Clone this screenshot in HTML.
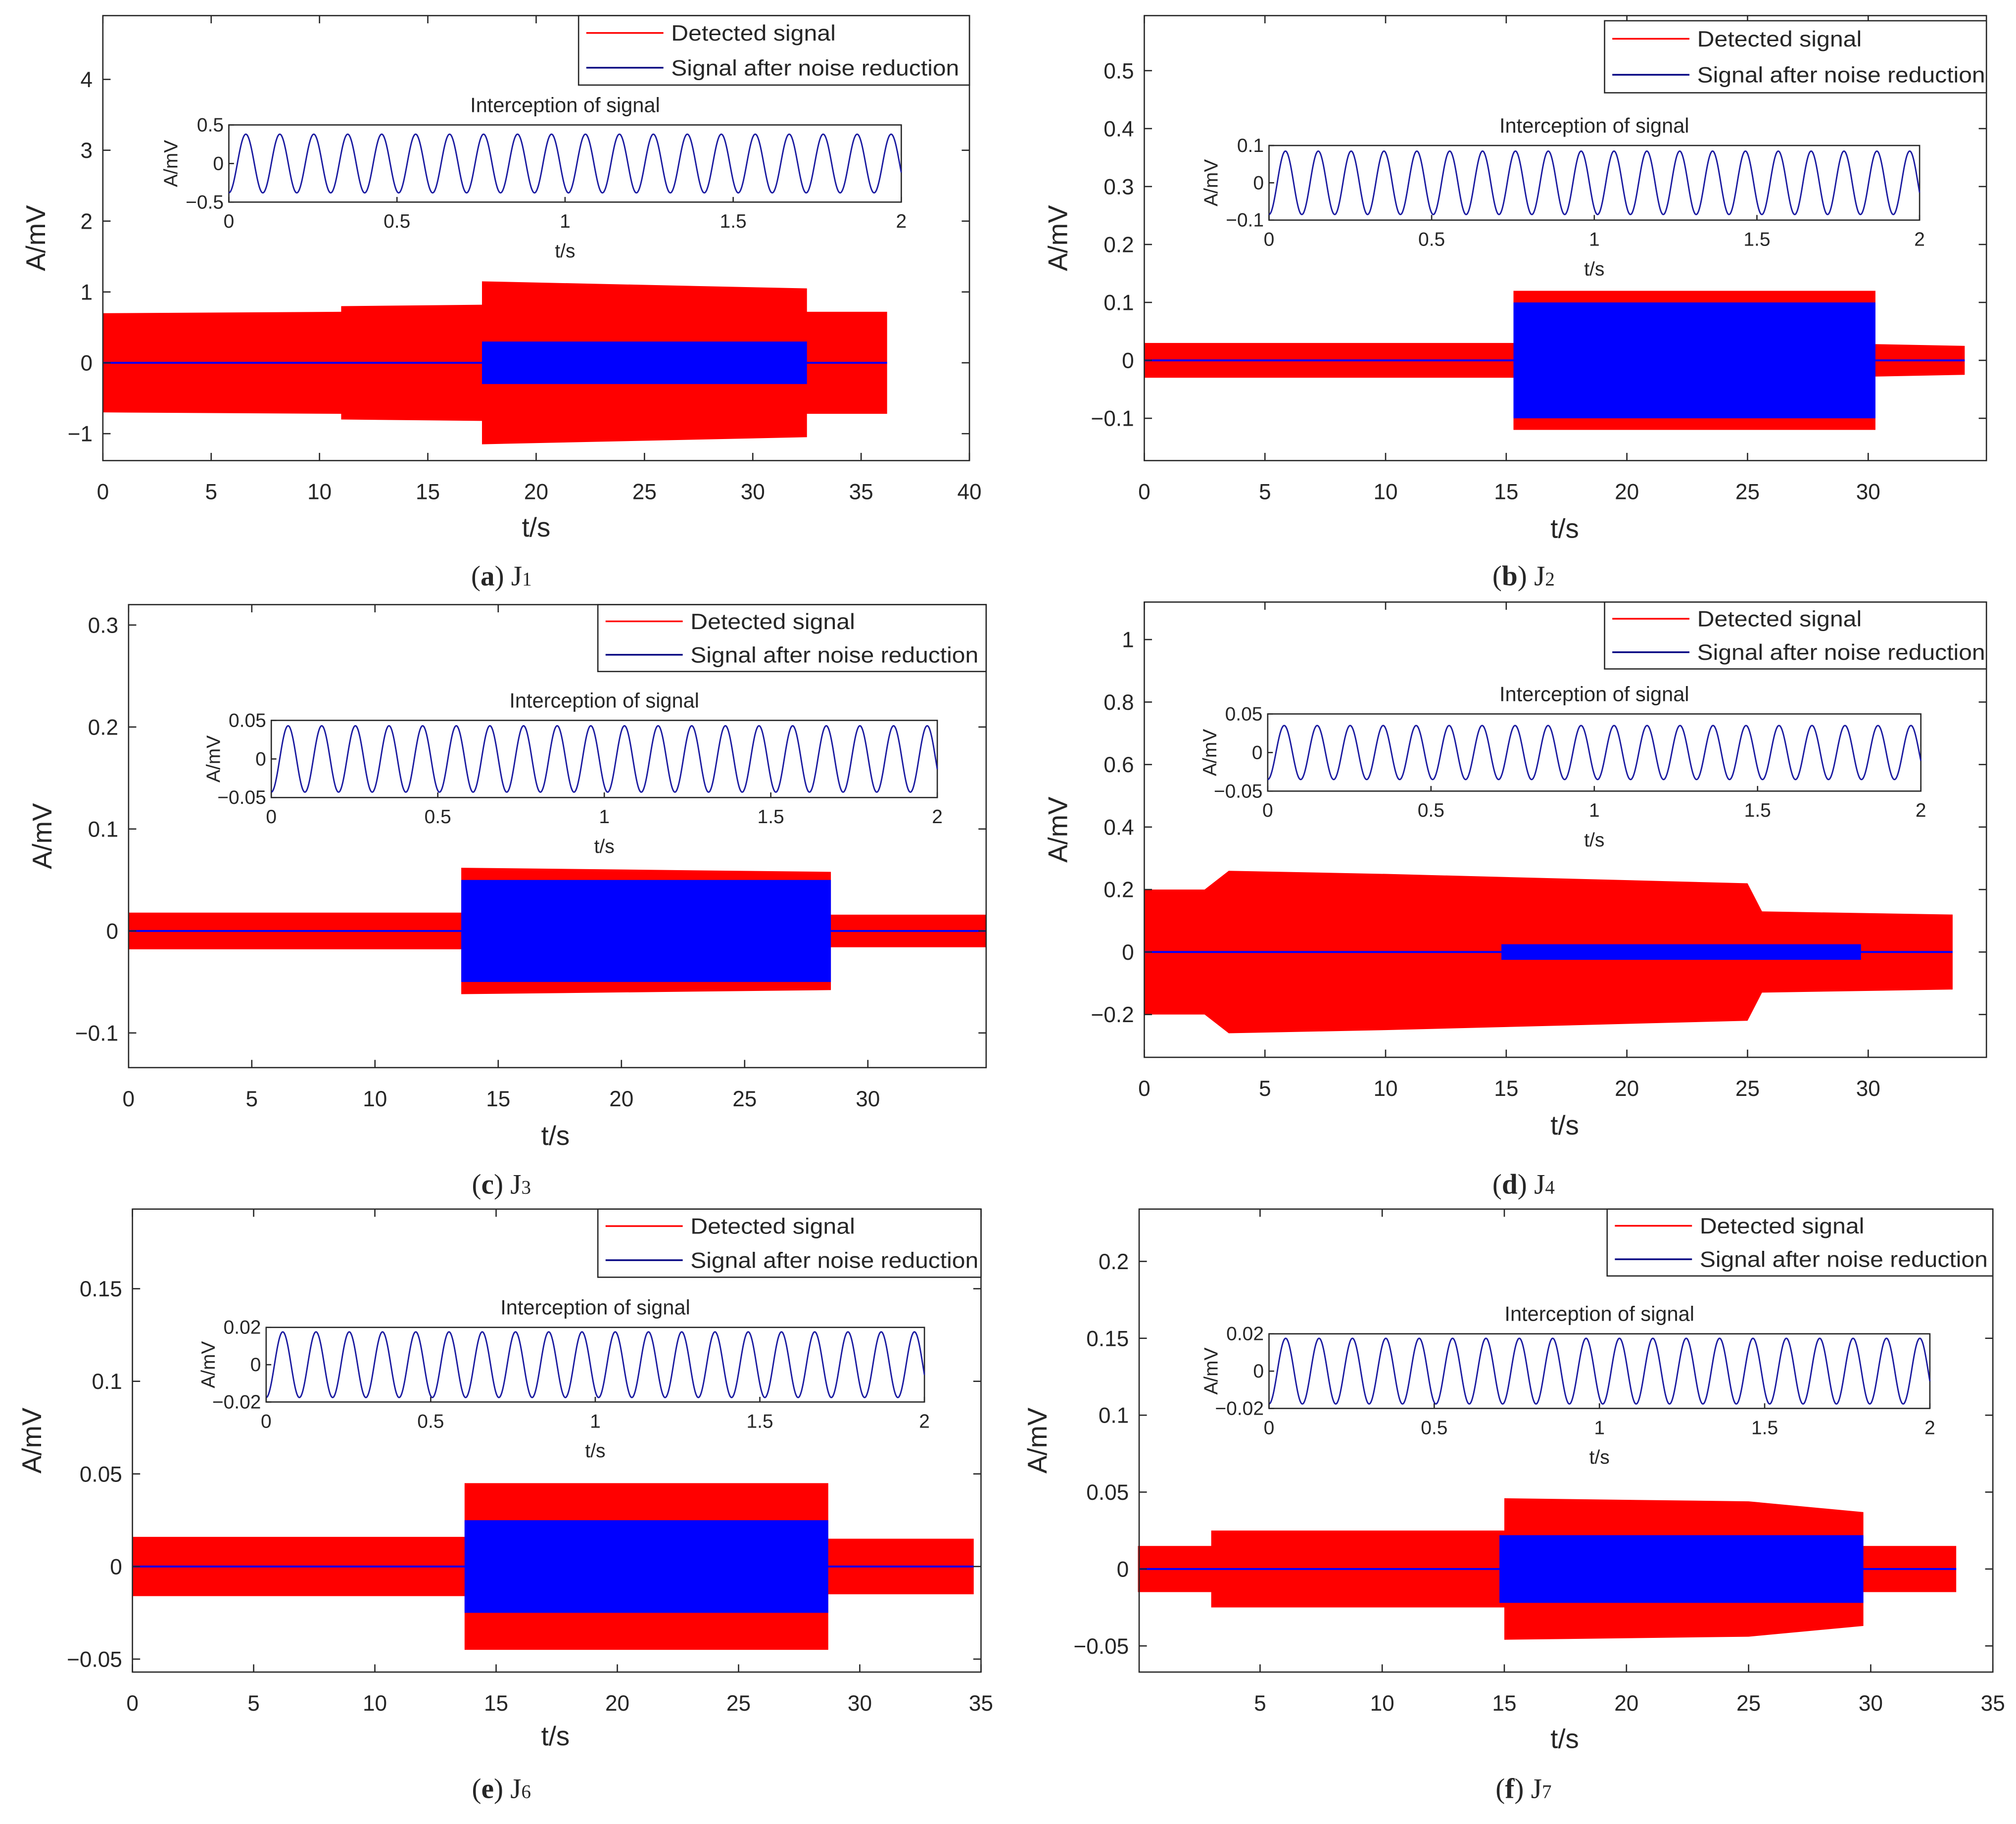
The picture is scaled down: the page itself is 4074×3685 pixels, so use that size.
<!DOCTYPE html>
<html><head><meta charset="utf-8"><style>
html,body{margin:0;padding:0;background:#fff;}
svg{display:block;}
text{font-family:"Liberation Sans",sans-serif;fill:#262626;}
</style></head><body>
<svg id="fig" width="4074" height="3685" viewBox="0 0 1568 1418" xmlns="http://www.w3.org/2000/svg"></svg>
<script>
// ---- data (per panel) ----
const panelIds = ['a','b','c','d','e','f'];
const captions = ['J1','J2','J3','J4','J6','J7'];
// red (detected) envelope: breakpoints (s) and amplitudes (mV)
const redT_a = [0,11,11,17.5,17.5,32.5,32.5,36.2];
const redA_a = [0.7,0.72,0.8,0.82,1.15,1.05,0.72,0.72];
const redT_b = [0,15.3,15.3,30.3,30.3,34];
const redA_b = [0.03,0.03,0.12,0.12,0.028,0.025];
const redT_c = [0,13.5,13.5,28.5,28.5,34.8];
const redA_c = [0.018,0.018,0.062,0.058,0.016,0.016];
const redT_d = [0,2.5,3.5,10,25,25.6,33.5];
const redA_d = [0.2,0.2,0.26,0.25,0.22,0.13,0.12];
const redT_e = [0,13.7,13.7,28.7,28.7,34.7];
const redA_e = [0.016,0.016,0.045,0.045,0.015,0.015];
const redT_f = [0,3,3,15,15,25,29.7,29.7,33.5];
const redA_f = [0.015,0.015,0.025,0.025,0.046,0.044,0.037,0.015,0.015];
// blue (denoised) envelope
const blueT_a = [17.5,32.5];   const blueA_a = [0.3,0.3];
const blueT_b = [15.3,30.3];   const blueA_b = [0.1,0.1];
const blueT_c = [13.5,28.5];   const blueA_c = [0.05,0.05];
const blueT_d = [14.8,29.7];   const blueA_d = [0.025,0.025];
const blueT_e = [13.7,28.7];   const blueA_e = [0.025,0.025];
const blueT_f = [14.8,29.7];   const blueA_f = [0.022,0.022];
const xTicks_a=[0,5,10,15,20,25,30,35,40]; const yTicks_a=[-1,0,1,2,3,4];
const xTicks_b=[0,5,10,15,20,25,30]; const yTicks_b=[-0.1,0,0.1,0.2,0.3,0.4,0.5];
const xTicks_c=[0,5,10,15,20,25,30]; const yTicks_c=[-0.1,0,0.1,0.2,0.3];
const xTicks_d=[0,5,10,15,20,25,30]; const yTicks_d=[-0.2,0,0.2,0.4,0.6,0.8,1];
const xTicks_e=[0,5,10,15,20,25,30,35]; const yTicks_e=[-0.05,0,0.05,0.1,0.15];
const xTicks_f=[5,10,15,20,25,30,35]; const yTicks_f=[-0.05,0,0.05,0.1,0.15,0.2];
const insetAmp = [0.38,0.085,0.043,0.035,0.022,0.022];
const insetLim = [0.5,0.1,0.05,0.05,0.025,0.025];
const insetTickLabels = [['0.5','0','-0.5'],['0.1','0','-0.1'],['0.05','0','-0.05'],['0.05','0','-0.05'],['0.02','0','-0.02'],['0.02','0','-0.02']];
const insetFreq = [9.9,9.9,9.9,9.9,9.9,9.9];

// ---- layout ----
const L = {
 a:{box:[80,12,754,358],x:[0,40],y:[-1.38,4.9],leg:[450,12,754,66],ins:[178,97,701,157],ylab:[35,185],xlab:[417,417],cap:[390,455],tend:36.2},
 b:{box:[890,12,1545,358],x:[0,34.9],y:[-0.173,0.595],leg:[1248,16,1545,72],ins:[987,113,1493,171],ylab:[830,185],xlab:[1217,418],cap:[1185,455],tend:34},
 c:{box:[100,470,767,830],x:[0,34.8],y:[-0.134,0.32],leg:[465,470,767,522],ins:[211,560,729,620],ylab:[40,650],xlab:[432,890],cap:[390,928],tend:34.8},
 d:{box:[890,468,1545,822],x:[0,34.9],y:[-0.337,1.12],leg:[1248,468,1545,520],ins:[986,555,1494,615],ylab:[830,645],xlab:[1217,882],cap:[1185,928],tend:33.5},
 e:{box:[103,940,763,1300],x:[0,35],y:[-0.057,0.193],leg:[465,940,763,993],ins:[207,1032,719,1090],ylab:[32,1120],xlab:[432,1357],cap:[390,1398],tend:34.7},
 f:{box:[886,940,1550,1300],x:[0.05,35],y:[-0.067,0.234],leg:[1250,940,1550,992],ins:[987,1037,1501,1095],ylab:[814,1120],xlab:[1217,1359],cap:[1185,1398],tend:33.5}
};
const NS='http://www.w3.org/2000/svg';
const svg=document.getElementById('fig');
function mk(tag,attrs,parent,txt){const e=document.createElementNS(NS,tag);for(const k in attrs)e.setAttribute(k,attrs[k]);if(txt!==undefined)e.textContent=txt;(parent||svg).appendChild(e);return e;}
function fmt(v){return String(Math.round(v*1000)/1000).replace('-','\u2212');}

panelIds.forEach((id,pi)=>{
 const c=L[id];
 const g=mk('g',{});
 
 
 const [x0,y0,x1,y1]=c.box;
 const sx=v=>x0+(v-c.x[0])/(c.x[1]-c.x[0])*(x1-x0);
 const sy=v=>y1-(v-c.y[0])/(c.y[1]-c.y[0])*(y1-y0);
 const redT=eval('redT_'+id), redA=eval('redA_'+id), bT=eval('blueT_'+id), bA=eval('blueA_'+id);
 let pts=[];
 redT.forEach((t,i)=>pts.push(sx(t)+','+sy(redA[i])));
 for(let i=redT.length-1;i>=0;i--)pts.push(sx(redT[i])+','+sy(-redA[i]));
 const red=mk('polygon',{points:pts.join(' '),fill:'#ff0000'},g);
 
 
 const bl=mk('line',{x1:sx(Math.max(0,c.x[0])),x2:sx(c.tend),y1:sy(0),y2:sy(0),stroke:'#0000ff','stroke-width':1.5},g);
 
 
 pts=[];
 bT.forEach((t,i)=>pts.push(sx(t)+','+sy(bA[i])));
 for(let i=bT.length-1;i>=0;i--)pts.push(sx(bT[i])+','+sy(-bA[i]));
 const blue=mk('polygon',{points:pts.join(' '),fill:'#0000ff'},g);
 
 
 const bx=mk('rect',{x:x0,y:y0,width:x1-x0,height:y1-y0,fill:'none',stroke:'#262626','stroke-width':1},g);
 
 
 const xt=eval('xTicks_'+id), yt=eval('yTicks_'+id);
 xt.forEach(v=>{const X=sx(v);
  mk('line',{x1:X,x2:X,y1:y1,y2:y1-6,stroke:'#262626'},g);mk('line',{x1:X,x2:X,y1:y0,y2:y0+6,stroke:'#262626'},g);
  const t=mk('text',{x:X,y:y1+30,'text-anchor':'middle','font-size':17},g,fmt(v));
  
  });
 yt.forEach(v=>{const Y=sy(v);
  mk('line',{x1:x0,x2:x0+6,y1:Y,y2:Y,stroke:'#262626'},g);mk('line',{x1:x1,x2:x1-6,y1:Y,y2:Y,stroke:'#262626'},g);
  const t=mk('text',{x:x0-8,y:Y+6,'text-anchor':'end','font-size':17},g,fmt(v));
  
  });
 const yl=mk('text',{x:c.ylab[0],y:c.ylab[1],'text-anchor':'middle','font-size':21,transform:`rotate(-90 ${c.ylab[0]} ${c.ylab[1]})`},g,'A/mV');
 
 
 const xl=mk('text',{x:c.xlab[0],y:c.xlab[1],'text-anchor':'middle','font-size':21},g,'t/s');
 
 
 const [lx0,ly0,lx1,ly1]=c.leg;
 const lg=mk('g',{},g);
 
 
 mk('rect',{x:lx0,y:ly0,width:lx1-lx0,height:ly1-ly0,fill:'#fff',stroke:'#262626'},lg);
 const lh=(ly1-ly0)/2;
 [['Detected signal','#ff0000'],['Signal after noise reduction','#000080']].forEach((e,i)=>{
  const cy=ly0+lh*(i+0.5);
  mk('line',{x1:lx0+6,x2:lx0+66,y1:cy,y2:cy,stroke:e[1],'stroke-width':1.3},lg);
  const t=mk('text',{x:lx0+72,y:cy+6,'font-size':17,textLength:e[0].length>20?224:128,lengthAdjust:'spacingAndGlyphs'},lg,e[0]);
  
  });
 const [ix0,iy0,ix1,iy1]=c.ins;
 const ig=mk('g',{},g);
 
 
 mk('rect',{x:ix0,y:iy0,width:ix1-ix0,height:iy1-iy0,fill:'#fff',stroke:'#262626'},ig);
 const isx=v=>ix0+v/2*(ix1-ix0), isy=v=>(iy0+iy1)/2-v/insetLim[pi]*(iy1-iy0)/2;
 let d='';
 for(let k=0;k<=1200;k++){const t=2*k/1200;const v=-insetAmp[pi]*Math.cos(2*Math.PI*insetFreq[pi]*t);d+=(k?'L':'M')+isx(t).toFixed(2)+','+isy(v).toFixed(2);}
 const sp=mk('path',{d:d,fill:'none',stroke:'#1a1aa0','stroke-width':1.1},ig);
 
 
 [0,0.5,1,1.5,2].forEach(v=>{const X=isx(v);
  mk('line',{x1:X,x2:X,y1:iy1,y2:iy1-4,stroke:'#262626'},ig);
  mk('text',{x:X,y:iy1+20,'text-anchor':'middle','font-size':15},ig,String(v));});
 insetTickLabels[pi].forEach((s,i)=>{const Y=iy0+i*(iy1-iy0)/2;
  mk('line',{x1:ix0,x2:ix0+4,y1:Y,y2:Y,stroke:'#262626'},ig);
  mk('text',{x:ix0-4,y:Y+5,'text-anchor':'end','font-size':15},ig,s.replace('-','\u2212'));});
 const cx=(ix0+ix1)/2;
 mk('text',{x:cx,y:iy0-10,'text-anchor':'middle','font-size':16},ig,'Interception of signal');
 mk('text',{x:cx,y:iy1+43,'text-anchor':'middle','font-size':15},ig,'t/s');
 const iyl=ix0-40, iym=(iy0+iy1)/2;
 mk('text',{x:iyl,y:iym,'text-anchor':'middle','font-size':15,transform:`rotate(-90 ${iyl} ${iym})`},ig,'A/mV');
 const cap=mk('text',{x:c.cap[0],y:c.cap[1],'text-anchor':'middle','font-size':22,style:'font-family:"Liberation Serif",serif'},g);
 
 
 mk('tspan',{},cap,'(');mk('tspan',{'font-weight':'bold'},cap,id);mk('tspan',{},cap,') '+captions[pi][0]);
 mk('tspan',{'font-size':15},cap,captions[pi].slice(1));
});
</script>
</body></html>
